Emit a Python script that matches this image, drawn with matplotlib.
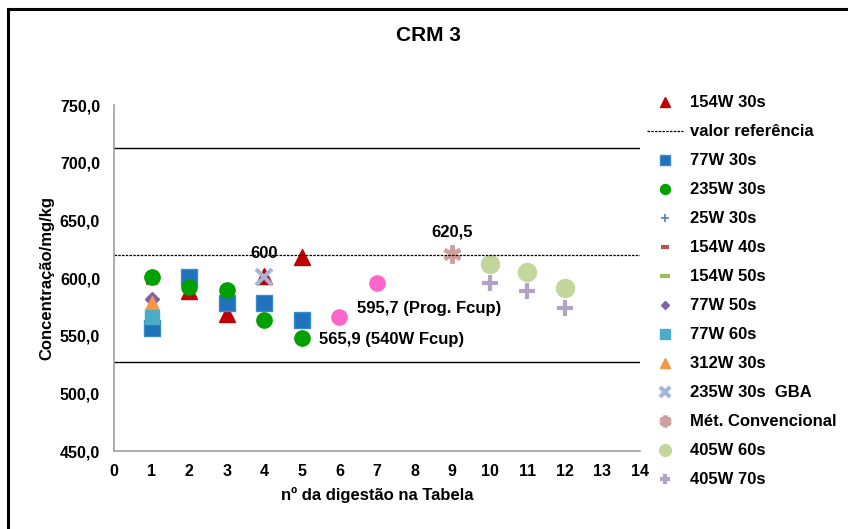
import matplotlib
matplotlib.use('Agg')
import matplotlib.pyplot as plt
from matplotlib.lines import Line2D

plt.rcParams['font.family'] = ['Liberation Sans', 'DejaVu Sans']
plt.rcParams['font.weight'] = 'bold'

# data
x_154w30 = [1, 2, 3, 4, 5]
y_154w30 = [558, 589, 569, 602, 618]
x_77w30 = [1, 2, 3, 4, 5]
y_77w30 = [557, 601, 578, 578, 564]
x_235w30 = [1, 2, 3, 4, 5]
y_235w30 = [601, 592, 590, 564, 548]
x_154w40 = [1]
y_154w40 = [596]
x_77w50 = [1]
y_77w50 = [582]
x_77w60 = [1]
y_77w60 = [566]
x_312w30 = [1]
y_312w30 = [578]
x_gba = [4]
y_gba = [601]
x_conv = [9]
y_conv = [620.5]
x_405w60 = [10, 11, 12]
y_405w60 = [612, 605, 591]
x_405w70 = [10, 11, 12]
y_405w70 = [596, 589, 574]
x_fcup = [6, 7]
y_fcup = [565.9, 595.7]

ref_value = 620
upper_limit = 713
lower_limit = 527

y_ticks = [450, 500, 550, 600, 650, 700, 750]
y_ticklabels = ['450,0', '500,0', '550,0', '600,0', '650,0', '700,0', '750,0']
x_ticks = list(range(0, 15))

fig = plt.figure(figsize=(8.48, 5.29), dpi=100)
ax = fig.add_axes([0.1344, 0.1474, 0.6203, 0.654])

ax.axhline(upper_limit, color='black', lw=1)
ax.axhline(lower_limit, color='black', lw=1)

h = {}
h['25W 30s'], = ax.plot([], [], '+', color='#4F81BD', ms=9, mew=1.2, label='25W 30s')
h['154W 50s'], = ax.plot([], [], '_', color='#9BBB59', ms=10, mew=3, label='154W 50s')
h['154W 40s'], = ax.plot(x_154w40, y_154w40, '_', color='#C0504D', ms=8, mew=3, ls='none', label='154W 40s')
h['154W 30s'], = ax.plot(x_154w30, y_154w30, '^', color='#C00000', ms=11, ls='none', label='154W 30s')
h['77W 30s'], = ax.plot(x_77w30, y_77w30, 's', color='#1F72BB', mec='#3A8AD0', ms=11, ls='none', label='77W 30s')
h['77W 50s'], = ax.plot(x_77w50, y_77w50, 'D', color='#8064A2', ms=7, ls='none', label='77W 50s')
h['312W 30s'], = ax.plot(x_312w30, y_312w30, '^', color='#F79646', ms=10, ls='none', label='312W 30s')
h['77W 60s'], = ax.plot(x_77w60, y_77w60, 's', color='#4BACC6', ms=10, ls='none', label='77W 60s')
h['235W 30s'], = ax.plot(x_235w30, y_235w30, 'o', color='#00A000', ms=11, ls='none', label='235W 30s')
h['235W 30s  GBA'], = ax.plot(x_gba, y_gba, 'x', color='#A6B6D8', ms=11, mew=3, ls='none', label='235W 30s  GBA')
h['Mét. Convencional'], = ax.plot(x_conv, y_conv, marker=(6, 2, 0), color='#D0A0A0', ms=13, mew=3, ls='none', label='Mét. Convencional')
h['405W 60s'], = ax.plot(x_405w60, y_405w60, 'o', color='#C3D69B', ms=13, ls='none', label='405W 60s')
h['405W 70s'], = ax.plot(x_405w70, y_405w70, '+', color='#B3A2C7', ms=11, mew=3, ls='none', label='405W 70s')
ax.plot(x_fcup, y_fcup, 'o', color='#FF66CC', ms=11, ls='none')
h['valor referência'] = ax.axhline(ref_value, color='black', lw=0.9, ls=(0, (2, 1)), label='valor referência')

ax.text(4, 621, '600', ha='center', va='center', fontsize=12, fontweight='bold')
ax.text(9, 640, '620,5', ha='center', va='center', fontsize=12, fontweight='bold')
ax.text(6.46, 574, '595,7 (Prog. Fcup)', ha='left', va='center', fontsize=12, fontweight='bold')
ax.text(5.47, 547, '565,9 (540W Fcup)', ha='left', va='center', fontsize=12, fontweight='bold')

ax.set_xlim(0, 14)
ax.set_ylim(450, 750)
ax.set_yticks(y_ticks)
ax.set_yticklabels(y_ticklabels)
ax.set_xticks(x_ticks)
ax.tick_params(length=0, labelsize=11.5, pad=10)
ax.tick_params(axis='x', pad=9)
for s in ['top', 'right']:
    ax.spines[s].set_visible(False)
for s in ['left', 'bottom']:
    ax.spines[s].set_color('#A0A0A0')
    ax.spines[s].set_linewidth(1.2)

ax.set_ylabel('Concentração/mg/kg', fontsize=12, fontweight='bold', labelpad=4)
ax.set_xlabel('nº da digestão na Tabela', fontsize=12, fontweight='bold', labelpad=6)
fig.text(0.505, 0.932, 'CRM 3', ha='center', va='center', fontsize=15, fontweight='bold')

order = ['154W 30s', 'valor referência', '77W 30s', '235W 30s', '25W 30s', '154W 40s',
         '154W 50s', '77W 50s', '77W 60s', '312W 30s', '235W 30s  GBA',
         'Mét. Convencional', '405W 60s', '405W 70s']
leg = fig.legend([h[k] for k in order], order, loc='upper left', bbox_to_anchor=(0.745, 0.848),
                 frameon=False, fontsize=12, markerscale=0.65, handlelength=2.2,
                 handletextpad=0.4, labelspacing=0.84)
for t in leg.get_texts():
    t.set_fontweight('bold')

# outer border (top and left)
fig.add_artist(Line2D([0.0094, 1], [0.983, 0.983], transform=fig.transFigure, color='black', lw=2.2))
fig.add_artist(Line2D([0.0094, 0.0094], [0, 0.983], transform=fig.transFigure, color='black', lw=2.2))

fig.savefig('out.png', dpi=100)
